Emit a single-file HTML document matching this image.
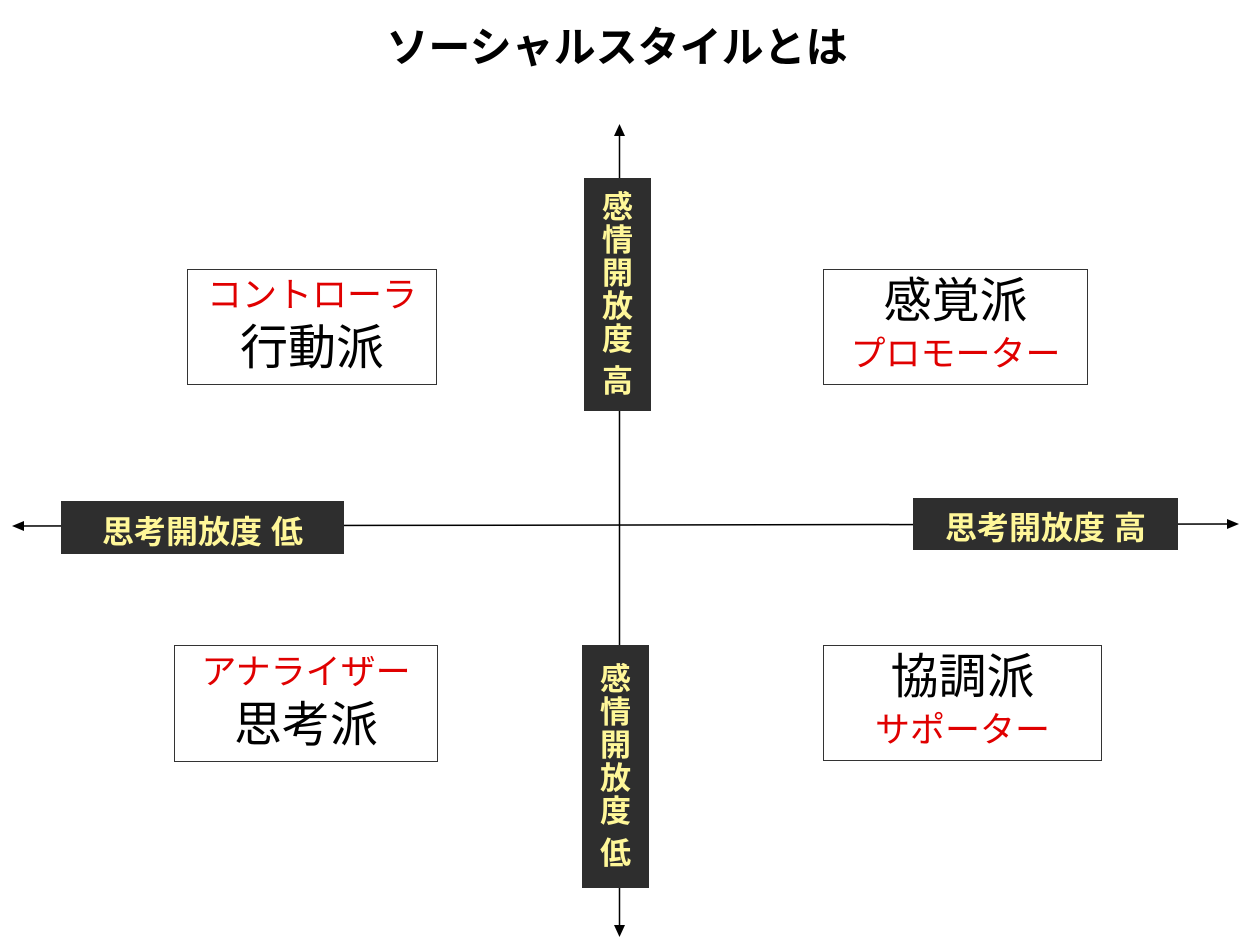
<!DOCTYPE html>
<html><head><meta charset="utf-8"><style>
body{margin:0;width:1250px;height:950px;background:#fff;position:relative;overflow:hidden;font-family:"Liberation Sans","Noto Sans CJK JP",sans-serif}
.a{position:absolute}
.title{left:0;width:1234px;top:20px;text-align:center;font-size:42px;font-weight:bold;line-height:56px}
.dk{background:#2e2e2e;color:#fff799;display:flex;align-items:center;justify-content:center;font-weight:bold}
.h{font-size:32px;padding-top:4px;box-sizing:border-box}
.v{font-size:31px;flex-direction:column;line-height:33px;text-align:center}
.q{border:1.5px solid #333;box-sizing:border-box;display:flex;flex-direction:column;align-items:center;justify-content:center;text-align:center}
.r{color:#e00000;font-size:35px;line-height:50px}
.k{color:#000;font-size:48px;line-height:56px}
</style></head><body>
<div class="a title">ソーシャルスタイルとは</div>
<svg class="a" style="left:0;top:0" width="1250" height="950">
<line x1="619.5" y1="133" x2="619.5" y2="928" stroke="#000" stroke-width="1.5"/>
<polygon points="619.5,124 614,136 625,136" fill="#000"/>
<polygon points="619.5,937 614,925 625,925" fill="#000"/>
<line x1="20" y1="526" x2="1230" y2="524" stroke="#000" stroke-width="1.5"/>
<polygon points="12,526 24,521 24,531" fill="#000"/>
<polygon points="1239,524 1227,519 1227,529" fill="#000"/>
</svg>
<div class="a dk v" style="left:584px;top:178px;width:67px;height:233px"><div>感<br>情<br>開<br>放<br>度</div><div style="margin-top:9px">高</div></div>
<div class="a dk v" style="left:582px;top:645px;width:67px;height:243px"><div>感<br>情<br>開<br>放<br>度</div><div style="margin-top:9px">低</div></div>
<div class="a dk h" style="left:61px;top:501px;width:283px;height:53px">思考開放度 低</div>
<div class="a dk h" style="left:913px;top:498px;width:265px;height:52px">思考開放度 高</div>
<div class="a q" style="left:187px;top:269px;width:250px;height:116px"><div class="r" style="margin-top:-6px">コントローラ</div><div class="k">行動派</div></div>
<div class="a q" style="left:823px;top:269px;width:265px;height:116px"><div class="k">感覚派</div><div class="r">プロモーター</div></div>
<div class="a q" style="left:174px;top:645px;width:264px;height:117px"><div class="r" style="margin-top:-6px">アナライザー</div><div class="k">思考派</div></div>
<div class="a q" style="left:823px;top:645px;width:279px;height:116px"><div class="k">協調派</div><div class="r">サポーター</div></div>
</body></html>
